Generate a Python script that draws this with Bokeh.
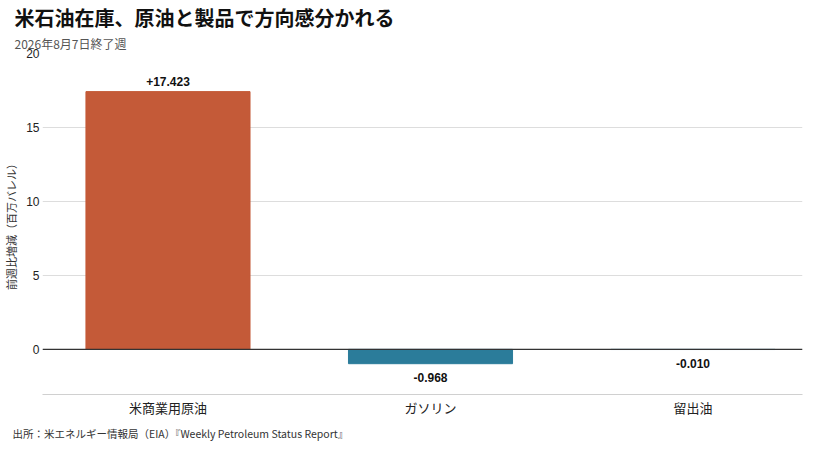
from bokeh.plotting import figure
from bokeh.models import Range1d, FixedTicker, Span, Title, ColumnDataSource
from bokeh.embed import file_html
from bokeh.resources import INLINE
from bokeh.core.properties import value

# ---- data ----
categories = ["米商業用原油", "ガソリン", "留出油"]
changes = [17.423, -0.968, -0.010]
y_ticks = [0, 5, 10, 15, 20]
title_text = "米石油在庫、原油と製品で方向感分かれる"
subtitle_text = "2026年8月7日終了週"
y_label = "前週比増減（百万バレル）"
source_text = "出所：米エネルギー情報局（EIA）『Weekly Petroleum Status Report』"

POS_COLOR = "#C45A38"
NEG_COLOR = "#2B7C9A"
JP = "Noto Sans CJK JP"

xs = list(range(len(categories)))
src = ColumnDataSource(dict(
    x=xs,
    top=changes,
    color=[POS_COLOR if v >= 0 else NEG_COLOR for v in changes],
    label=[f"{v:+.3f}" for v in changes],
    yoff=[-10 if v >= 0 else 14 for v in changes],
))

p = figure(width=804, height=445, output_backend="svg", toolbar_location=None,
           x_range=Range1d(-0.478, 2.417), y_range=Range1d(-3.05, 20),
           min_border_left=34, min_border_right=2, min_border_top=41,
           min_border_bottom=40, background_fill_color="white",
           border_fill_color="white", outline_line_color=None)
p.title = None

p.vbar(x="x", top="top", bottom=0, width=0.625, color="color", source=src)

p.text(x="x", y="top", text="label", source=src, y_offset="yoff",
       text_font=value("Liberation Sans"), text_font_style="bold",
       text_font_size="12px", text_align="center", text_baseline="middle",
       text_color="#111111")

p.add_layout(Span(location=0, dimension="width", line_color="#333333", line_width=1.2))

# axes
p.xgrid.grid_line_color = None
p.ygrid.grid_line_color = "#dddddd"
p.ygrid.ticker = FixedTicker(ticks=y_ticks)

p.yaxis.ticker = FixedTicker(ticks=y_ticks)
p.yaxis.axis_line_color = None
p.yaxis.major_tick_line_color = None
p.yaxis.minor_tick_line_color = None
p.yaxis.major_tick_out = 0
p.yaxis.major_tick_in = 0
p.yaxis.minor_tick_out = 0
p.yaxis.major_label_standoff = 3
p.yaxis.major_label_text_font = "Liberation Sans"
p.yaxis.major_label_text_font_size = "12px"
p.yaxis.major_label_text_color = "#222222"
p.yaxis.axis_label = y_label
p.yaxis.axis_label_text_font = JP
p.yaxis.axis_label_text_font_size = "11px"
p.yaxis.axis_label_text_font_style = "normal"
p.yaxis.axis_label_text_color = "#333333"
p.yaxis.axis_label_standoff = 4

p.xaxis.ticker = FixedTicker(ticks=xs)
p.xaxis.major_label_overrides = {i: c for i, c in enumerate(categories)}
p.xaxis.axis_label = None
p.xaxis.axis_label_standoff = 0
p.xaxis.axis_line_color = "#d0d0d0"
p.xaxis.axis_line_width = 1.2
p.xaxis.major_tick_line_color = None
p.xaxis.minor_tick_line_color = None
p.xaxis.major_tick_out = 0
p.xaxis.major_tick_in = 0
p.xaxis.minor_tick_out = 0
p.xaxis.major_label_standoff = 3
p.xaxis.major_label_text_font = JP
p.xaxis.major_label_text_font_size = "13px"
p.xaxis.major_label_text_color = "#222222"

# titles
p.add_layout(Title(text=subtitle_text, text_font=JP, text_font_size="12px",
                   text_font_style="normal", text_color="#555555",
                   align="left", offset=-28, standoff=3, text_line_height=0.8),
             "above")
p.add_layout(Title(text=title_text, text_font=JP, text_font_size="20px",
                   text_font_style="bold", text_color="#111111",
                   align="left", offset=-28, standoff=0, text_line_height=0.7),
             "above")
p.add_layout(Title(text=source_text, text_font=JP, text_font_size="10.5px",
                   text_font_style="normal", text_color="#333333",
                   align="left", offset=-30, standoff=9), "below")

open("out.html", "w").write(file_html(p, INLINE))
